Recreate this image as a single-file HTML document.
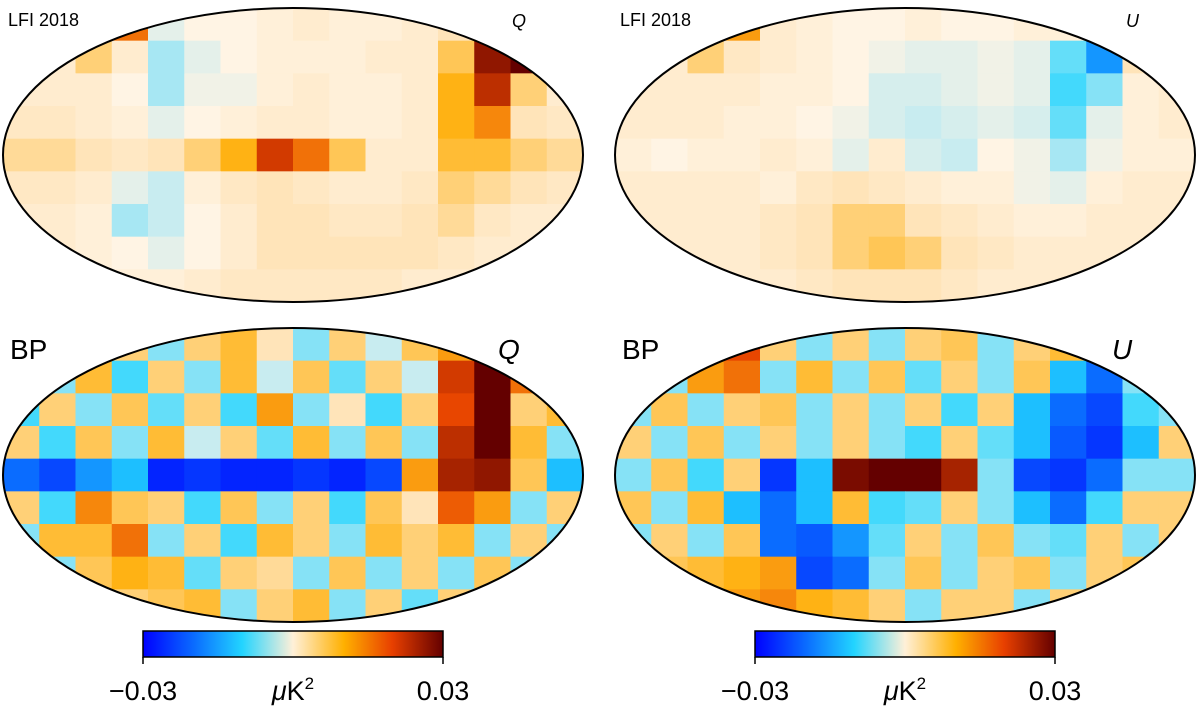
<!DOCTYPE html>
<html><head><meta charset="utf-8">
<style>
html,body{margin:0;padding:0;background:#fff;}
svg{display:block;}
text{font-family:"Liberation Sans","DejaVu Sans",sans-serif;fill:#000;}
</style></head>
<body>
<svg id="fig" width="1200" height="712" viewBox="0 0 1200 712" xmlns="http://www.w3.org/2000/svg">
<defs>
<linearGradient id="cmap" x1="0" x2="1" y1="0" y2="0">
<stop offset="0" stop-color="#0000ff"/>
<stop offset="0.17" stop-color="#0a6cff"/>
<stop offset="0.33" stop-color="#22d4ff"/>
<stop offset="0.5" stop-color="#fff0d8"/>
<stop offset="0.67" stop-color="#ffb000"/>
<stop offset="0.83" stop-color="#e84000"/>
<stop offset="1" stop-color="#640000"/>
</linearGradient>
</defs>
<g id="maps"></g>
<g>
<rect x="143" y="631" width="300" height="26" fill="url(#cmap)" stroke="#000" stroke-width="1.5"/>
<line x1="143" y1="657" x2="143" y2="664" stroke="#000" stroke-width="1.5"/>
<line x1="443" y1="657" x2="443" y2="664" stroke="#000" stroke-width="1.5"/>
<text x="143" y="700" font-size="27" text-anchor="middle">−0.03</text>
<text x="293" y="700" font-size="27" text-anchor="middle"><tspan font-style="italic">μ</tspan>K<tspan font-size="17" dy="-11">2</tspan></text>
<text x="443" y="700" font-size="27" text-anchor="middle">0.03</text>
</g>
<g>
<rect x="755" y="631" width="300" height="26" fill="url(#cmap)" stroke="#000" stroke-width="1.5"/>
<line x1="755" y1="657" x2="755" y2="664" stroke="#000" stroke-width="1.5"/>
<line x1="1055" y1="657" x2="1055" y2="664" stroke="#000" stroke-width="1.5"/>
<text x="755" y="700" font-size="27" text-anchor="middle">−0.03</text>
<text x="905" y="700" font-size="27" text-anchor="middle"><tspan font-style="italic">μ</tspan>K<tspan font-size="17" dy="-11">2</tspan></text>
<text x="1055" y="700" font-size="27" text-anchor="middle">0.03</text>
</g>
<text x="8" y="26" font-size="18">LFI 2018</text>
<text x="512" y="27" font-size="18" font-style="italic">Q</text>
<text x="620" y="26" font-size="18">LFI 2018</text>
<text x="1126" y="27" font-size="18" font-style="italic">U</text>
<text x="10" y="359" font-size="28">BP</text>
<text x="498" y="359" font-size="28" font-style="italic">Q</text>
<text x="622" y="359" font-size="28">BP</text>
<text x="1112" y="359" font-size="28" font-style="italic">U</text>
</svg>
<script>
const lfiQ = [
[0,0,0.7,0.6,-0.1,0,0,0.05,0.1,0.05,0.05,0.1,0.2,0.6,-0.6,0],
[0,0.1,0.3,0.1,-0.25,-0.1,0,0.05,0.05,0.05,0.1,0.1,0.35,0.9,1,0],
[0.1,0.1,0.1,0,-0.25,-0.05,-0.05,0.05,0.1,0.05,0.05,0.1,0.45,0.8,0.3,0.1],
[0.15,0.15,0.1,0.05,-0.1,0,0.05,0.1,0.1,0.05,0.05,0.1,0.45,0.55,0.2,0.15],
[0.25,0.25,0.2,0.15,0.2,0.3,0.45,0.75,0.6,0.35,0.1,0.1,0.4,0.4,0.3,0.25],
[0.15,0.15,0.1,-0.1,-0.2,0.05,0.15,0.2,0.15,0.1,0.1,0.15,0.3,0.25,0.2,0.15],
[0.1,0.1,0.05,-0.25,-0.2,0,0.1,0.2,0.2,0.15,0.15,0.2,0.25,0.15,0.1,0.1],
[0.1,0.1,0.05,0,-0.1,0,0.1,0.2,0.2,0.2,0.2,0.2,0.15,0.1,0.1,0.1],
[0.1,0.1,0.1,0.05,0.05,0.1,0.15,0.15,0.15,0.15,0.15,0.1,0.1,0.1,0.1,0.1]
];
const lfiU = [
[0,0,0.75,0.5,0.1,0.05,0,0,0.05,0,0,0.05,0.05,-0.3,0.6,0],
[0,0.1,0.3,0.15,0.1,0.05,0,-0.05,-0.1,-0.1,-0.05,-0.1,-0.35,-0.6,0.2,0],
[0.1,0.1,0.1,0.1,0.05,0.05,0,-0.15,-0.15,-0.1,-0.05,-0.1,-0.4,-0.3,0.05,0.1],
[0.1,0.1,0.1,0.05,0.05,0,-0.05,-0.15,-0.2,-0.15,-0.1,-0.15,-0.35,-0.1,0.05,0.1],
[0.05,0,0.05,0.05,0.1,0.05,-0.1,0.1,-0.15,-0.2,0,-0.05,-0.25,-0.05,0.05,0.05],
[0.1,0.1,0.1,0.1,0.05,0.15,0.2,0.15,0.1,0.05,0.05,-0.05,-0.1,0.05,0.1,0.1],
[0.1,0.1,0.1,0.1,0.15,0.2,0.3,0.3,0.2,0.15,0.1,0.05,0.05,0.1,0.1,0.1],
[0.1,0.1,0.1,0.1,0.15,0.2,0.3,0.35,0.3,0.2,0.15,0.1,0.1,0.1,0.1,0.1],
[0.1,0.1,0.1,0.1,0.1,0.15,0.2,0.2,0.2,0.15,0.1,0.1,0.1,0.1,0.1,0.1]
];
const bpQ = [
[0,0,0.85,0.3,-0.3,0.3,0.4,0.2,-0.3,0.3,-0.2,0.35,0.5,1,1,0],
[0.2,-0.3,0.4,-0.4,0.3,-0.3,0.4,-0.2,0.35,-0.35,0.3,-0.2,0.75,1,0.6,-0.3],
[-0.4,0.3,-0.3,0.35,-0.35,0.3,-0.4,0.5,-0.3,0.2,-0.4,0.3,0.7,1,0.3,0.4],
[0.3,-0.4,0.35,-0.3,0.4,-0.2,0.3,-0.35,0.4,-0.3,0.35,-0.3,0.8,1,0.4,-0.3],
[-0.7,-0.8,-0.6,-0.5,-0.9,-0.85,-0.9,-0.9,-0.85,-0.9,-0.8,0.5,0.85,0.9,0.35,-0.5],
[0.3,-0.4,0.55,0.35,0.3,-0.4,0.35,-0.3,0.3,-0.4,0.35,0.2,0.65,0.5,-0.3,0.3],
[-0.3,0.4,0.4,0.6,-0.3,0.3,-0.4,0.4,0.3,-0.3,0.4,0.3,0.4,-0.3,0.3,-0.3],
[0.3,-0.3,0.35,0.45,0.4,-0.35,0.3,0.25,-0.3,0.35,-0.3,0.3,-0.3,0.35,-0.3,0.3],
[0,0.3,-0.3,0.3,0.35,0.4,-0.3,0.3,0.4,-0.3,0.3,-0.35,0.3,0.3,0.3,0]
];
const bpU = [
[0,0,0.8,0.7,0.3,-0.3,0.3,-0.3,0.3,0.35,-0.3,0.3,0.4,0.6,0.5,0],
[0.3,-0.3,0.5,0.6,-0.3,0.4,-0.3,0.35,-0.35,0.3,-0.3,0.35,-0.5,-0.7,-0.3,0.3],
[-0.3,0.35,-0.3,0.3,0.35,-0.3,0.3,-0.3,0.3,-0.4,0.3,-0.5,-0.7,-0.8,-0.4,-0.3],
[0.3,-0.3,0.35,-0.3,0.3,-0.3,0.3,-0.3,-0.4,0.3,-0.35,-0.5,-0.75,-0.85,-0.5,0.3],
[-0.3,0.35,-0.4,0.3,-0.85,-0.5,0.95,1,1,0.85,-0.3,-0.8,-0.85,-0.7,-0.3,-0.3],
[0.35,-0.3,0.4,-0.5,-0.7,-0.5,0.4,-0.4,-0.35,0.3,-0.3,-0.5,-0.7,-0.4,0.3,0.3],
[-0.3,0.3,-0.3,0.35,-0.7,-0.75,-0.6,-0.35,0.3,-0.3,0.35,-0.3,-0.35,0.3,-0.3,0.3],
[0.3,0.35,0.4,0.45,0.5,-0.8,-0.7,-0.3,0.35,-0.3,0.3,0.35,-0.3,0.3,0.35,0.3],
[0,0.3,0.4,0.5,0.55,0.45,0.4,0.3,-0.3,0.3,0.3,-0.3,0.3,-0.3,0.3,0]
];
const panels = [
  {name:'lfi-q-map', grid:lfiQ, cx:293, cy:155},
  {name:'lfi-u-map', grid:lfiU, cx:905, cy:155},
  {name:'bp-q-map', grid:bpQ, cx:293, cy:475},
  {name:'bp-u-map', grid:bpU, cx:905, cy:475}
];
const stops=[[-1,[0,0,255]],[-0.7,[10,108,255]],[-0.45,[34,212,255]],[-0.2,[200,236,240]],[0,[255,244,228]],[0.2,[255,228,185]],[0.45,[255,178,20]],[0.7,[232,70,0]],[1,[100,0,0]]];
function cmap(v){v=Math.max(-1,Math.min(1,v));for(let i=0;i<stops.length-1;i++){const a=stops[i],b=stops[i+1];if(v<=b[0]){const t=(v-a[0])/(b[0]-a[0]);const c=a[1].map((x,k)=>Math.round(x+(b[1][k]-x)*t));return `rgb(${c})`;}}return 'rgb(100,0,0)';}
const NS='http://www.w3.org/2000/svg';
const RX=290, RY=147;
const root=document.getElementById('maps');
const defs=document.querySelector('defs');
panels.forEach((p,pi)=>{
  const cp=document.createElementNS(NS,'clipPath');cp.setAttribute('id','clip'+pi);
  const ce=document.createElementNS(NS,'ellipse');ce.setAttribute('cx',p.cx);ce.setAttribute('cy',p.cy);ce.setAttribute('rx',RX);ce.setAttribute('ry',RY);
  cp.appendChild(ce);defs.appendChild(cp);
  const g=document.createElementNS(NS,'g');
  
  
  g.setAttribute('clip-path','url(#clip'+pi+')');
  const rows=p.grid.length, cols=p.grid[0].length;
  const cw=2*RX/cols, ch=2*RY/rows;
  p.grid.forEach((row,r)=>row.forEach((v,c)=>{
    const rc=document.createElementNS(NS,'rect');
    
    
    rc.setAttribute('x',p.cx-RX+c*cw);rc.setAttribute('y',p.cy-RY+r*ch);
    rc.setAttribute('width',cw+0.5);rc.setAttribute('height',ch+0.5);
    rc.setAttribute('fill',cmap(v));g.appendChild(rc);
  }));
  root.appendChild(g);
  const e=document.createElementNS(NS,'ellipse');
  
  
  e.setAttribute('cx',p.cx);e.setAttribute('cy',p.cy);e.setAttribute('rx',RX);e.setAttribute('ry',RY);
  e.setAttribute('fill','none');e.setAttribute('stroke','#000');e.setAttribute('stroke-width','2');
  root.appendChild(e);
});
</script>
</body></html>
